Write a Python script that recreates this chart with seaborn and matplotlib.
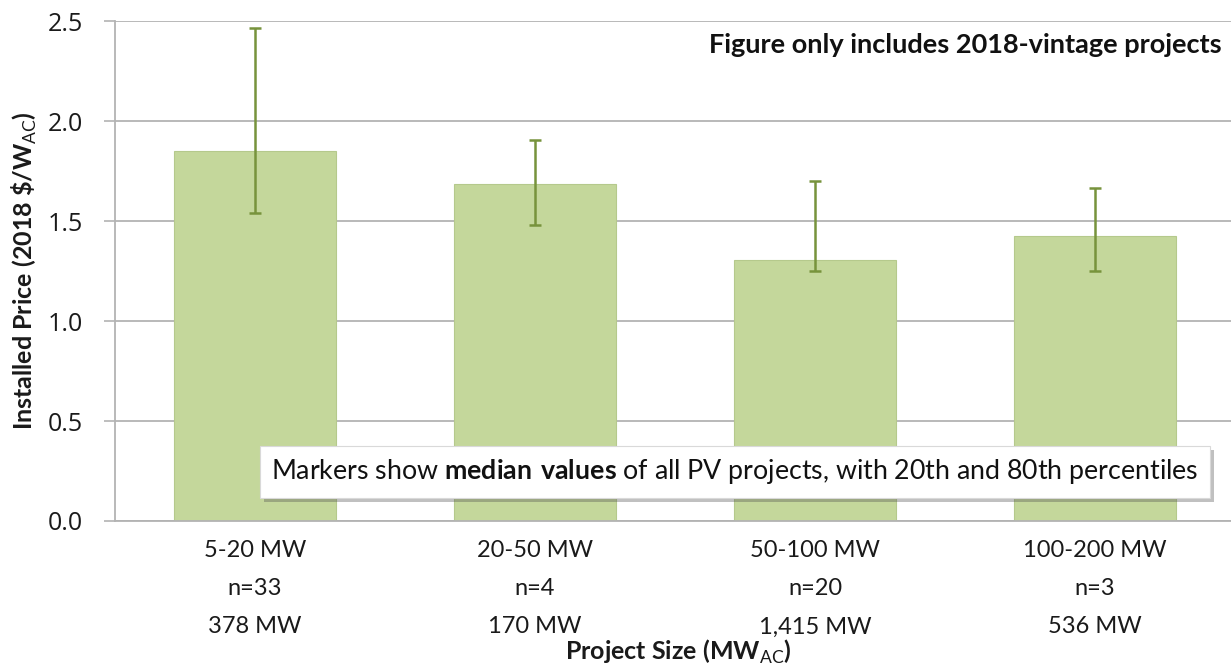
import numpy as np
import pandas as pd
import matplotlib.pyplot as plt
import matplotlib.patheffects as pe
import seaborn as sns

sns.set_theme(style="white")
plt.rcParams['font.family'] = ['Lato', 'DejaVu Sans']
plt.rcParams['mathtext.fontset'] = 'custom'
plt.rcParams['mathtext.rm'] = 'Lato'
plt.rcParams['mathtext.bf'] = 'Lato:bold'

# Data
size_bins = ['5-20 MW', '20-50 MW', '50-100 MW', '100-200 MW']
n_projects = [33, 4, 20, 3]
capacity_mw = ['378', '170', '1,415', '536']
median_price = [1.85, 1.685, 1.305, 1.425]
p20_price = [1.54, 1.48, 1.25, 1.25]
p80_price = [2.465, 1.905, 1.70, 1.665]

tick_labels = [f'{s}\nn={n}\n{c} MW' for s, n, c in zip(size_bins, n_projects, capacity_mw)]
df = pd.DataFrame({'size': tick_labels, 'median': median_price})

bar_color = '#c4d79b'
err_color = '#77933c'
grid_color = '#b3b3b3'

fig = plt.figure(figsize=(12.31, 6.67), dpi=100)
ax = fig.add_axes([115 / 1231, 1 - 521 / 667, 1 - 115 / 1231, 500 / 667])

sns.barplot(data=df, x='size', y='median', color=bar_color, width=0.58,
            edgecolor='#b5c98c', linewidth=0.8, saturation=1, ax=ax, zorder=2)

x = np.arange(len(size_bins))
med = np.array(median_price)
yerr = [med - np.array(p20_price), np.array(p80_price) - med]
ax.errorbar(x, med, yerr=yerr, fmt='none', ecolor=err_color, elinewidth=1.8,
            capsize=4.5, capthick=1.8, zorder=3)

ax.set_xlim(-0.5, 3.486)
ax.set_ylim(0, 2.5)
ax.set_yticks([0, 0.5, 1.0, 1.5, 2.0, 2.5])
ax.set_yticklabels(['0.0', '0.5', '1.0', '1.5', '2.0', '2.5'],
                   family=['Open Sans', 'DejaVu Sans'], fontsize=18, color='#1a1a1a')
ax.yaxis.grid(True, color=grid_color, linewidth=1.3, zorder=0)
ax.set_axisbelow(True)

ax.set_xticks(x)
ax.set_xticklabels(tick_labels, fontsize=17, linespacing=2.0, color='#1a1a1a')
ax.set_xticks([-0.5, 0.5, 1.5, 2.5], minor=True)
ax.tick_params(axis='x', which='major', length=0, pad=14)
ax.tick_params(axis='x', which='minor', length=8, width=1.2, color=grid_color)
ax.tick_params(axis='y', which='major', length=8, width=1.2, color=grid_color, pad=15, left=True)

for side in ['top', 'right']:
    ax.spines[side].set_visible(False)
for side in ['left', 'bottom']:
    ax.spines[side].set_color(grid_color)
    ax.spines[side].set_linewidth(1.3)

ax.set_ylabel('Installed Price (2018 \\$/W$_{\\rm AC}$)', fontsize=18, fontweight='bold', labelpad=6)
ax.set_xlabel('Project Size (MW$_{\\rm AC}$)', fontsize=18, fontweight='bold')
ax.xaxis.set_label_coords(0.505, -0.234)
ax.yaxis.label.set_color('#1a1a1a')
ax.xaxis.label.set_color('#1a1a1a')

ax.text(0.992, 0.952, 'Figure only includes 2018-vintage projects', transform=ax.transAxes,
        ha='right', va='center', fontsize=19.5, fontweight='bold', color='#111111')

note = ax.text(0.5556, 0.098, 'Markers show $\\bf{median\\ values}$ of all PV projects, with 20th and 80th percentiles',
               transform=ax.transAxes, ha='center', va='center', fontsize=19.3, color='#111111', zorder=5,
               bbox=dict(boxstyle='square,pad=0.42', fc='white', ec='#d9d9d9', lw=0.8))
note.get_bbox_patch().set_path_effects([pe.withSimplePatchShadow(offset=(3, -3), alpha=0.35)])

fig.savefig('out.png', dpi=100)
